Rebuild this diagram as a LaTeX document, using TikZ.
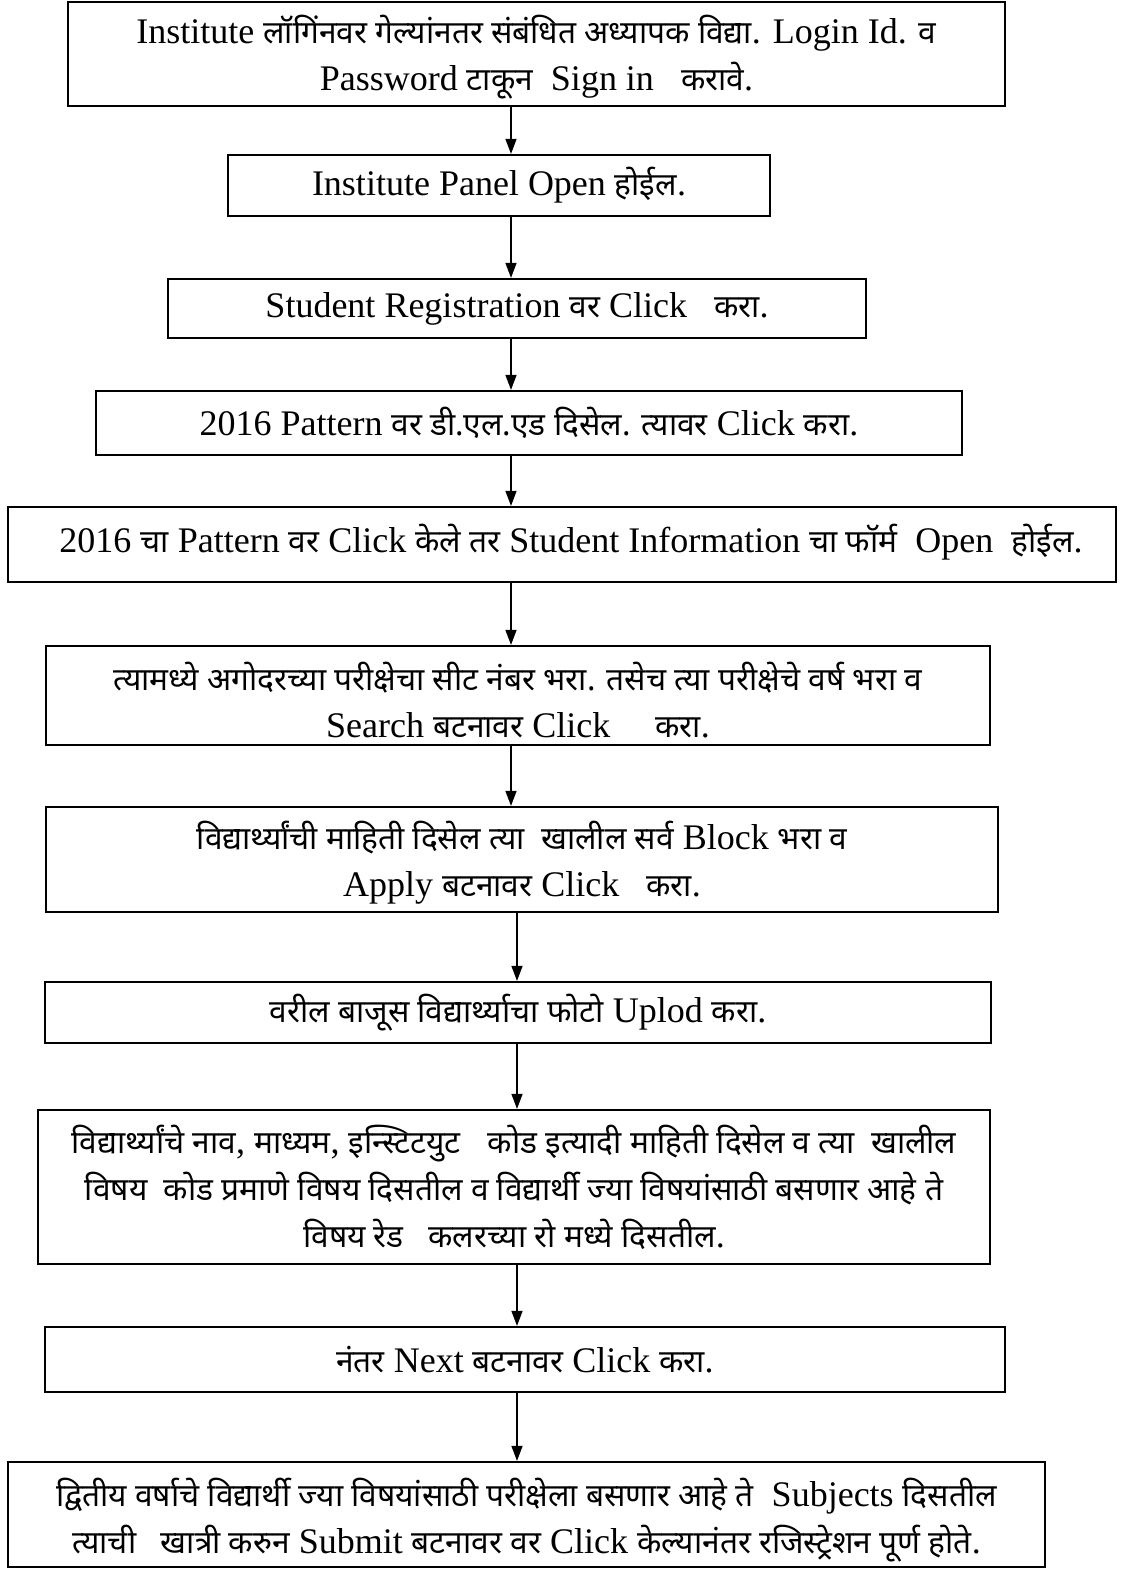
\documentclass[tikz,border=0pt]{standalone}
\usepackage{fontspec}
\usetikzlibrary{arrows.meta}
\setmainfont{Liberation Serif}
\newfontfamily\devfont[Script=Devanagari,Scale=0.88]{Noto Sans}
\newcommand{\dv}[1]{{\devfont #1}}
\tikzset{
  stepbox/.style={draw=black, line width=2.2pt, inner sep=0pt, align=center,
    font=\fontsize{36}{47}\selectfont},
  arr/.style={line width=1.4pt, -{Triangle[length=15pt,width=11pt]}}
}
\newcommand{\pbox}[6]{% name, left, top, right, bottom, text
  \node[stepbox, minimum width={#4-#2}, minimum height={#5-#3}] (#1) at ({(#2+#4)/2},{(#3+#5)/2}) {#6};}
\begin{document}
\begin{tikzpicture}[x=1pt,y=-1pt]
\useasboundingbox (0,0) rectangle (1121,1570);
\pbox{b1}{68}{2}{1005}{106}{\rule{0pt}{34pt}Institute \dv{लॉगिंनवर गेल्यांनतर संबंधित अध्यापक विद्या}. Login Id. \dv{व}\\Password \dv{टाकून}\ \ Sign in\ \ \ \dv{करावे}.}
\pbox{b2}{228}{155}{770}{216}{Institute Panel Open \dv{होईल}.}
\pbox{b3}{168}{279}{866}{338}{Student Registration \dv{वर} Click\ \ \ \dv{करा}.}
\pbox{b4}{96}{391}{962}{455}{2016 Pattern \dv{वर डी.एल.एड दिसेल. त्यावर} Click\ \dv{करा}.}
\pbox{b5}{8}{507}{1116}{582}{\raisebox{12pt}{\ \ 2016 \dv{चा} Pattern \dv{वर} Click \dv{केले तर} Student Information \dv{चा फॉर्म}\ \ Open\ \ \dv{होईल}.}}
\pbox{b6}{46}{646}{990}{745}{\rule{0pt}{38pt}\dv{त्यामध्ये अगोदरच्या परीक्षेचा सीट नंबर भरा. तसेच त्या परीक्षेचे वर्ष भरा व}\\Search \dv{बटनावर} Click\ \ \ \ \ \dv{करा}.}
\pbox{b7}{46}{807}{998}{912}{\rule{0pt}{34pt}\dv{विद्यार्थ्यांची माहिती दिसेल त्या\ \ खालील सर्व} Block \dv{भरा व}\\Apply \dv{बटनावर} Click\ \ \ \dv{करा}.}
\pbox{b8}{45}{982}{991}{1043}{\dv{वरील बाजूस विद्यार्थ्याचा फोटो} Uplod \dv{करा}.}
\pbox{b9}{38}{1110}{990}{1264}{\dv{विद्यार्थ्यांचे नाव}, \dv{माध्यम}, \dv{इन्स्टिटयुट}\ \ \ \dv{कोड इत्यादी माहिती दिसेल व त्या\ \ खालील}\\\dv{विषय\ \ कोड प्रमाणे विषय दिसतील व विद्यार्थी ज्या विषयांसाठी बसणार आहे ते}\\\dv{विषय रेड\ \ \ कलरच्या रो मध्ये दिसतील}.}
\pbox{b10}{45}{1327}{1005}{1392}{\dv{नंतर} Next \dv{बटनावर} Click \dv{करा}.}
\pbox{b11}{8}{1462}{1045}{1567}{\rule{0pt}{40pt}\dv{द्वितीय वर्षाचे विद्यार्थी ज्या विषयांसाठी परीक्षेला बसणार आहे ते}\ \ Subjects \dv{दिसतील}\\\dv{त्याची\ \ \ खात्री करुन} Submit \dv{बटनावर वर} Click \dv{केल्यानंतर रजिस्ट्रेशन पूर्ण होते}.}
\coordinate (xa) at (511,0);
\coordinate (xb) at (517,0);
\draw[arr] (b1.south -| xa) -- (b2.north -| xa);
\draw[arr] (b2.south -| xa) -- (b3.north -| xa);
\draw[arr] (b3.south -| xa) -- (b4.north -| xa);
\draw[arr] (b4.south -| xa) -- (b5.north -| xa);
\draw[arr] (b5.south -| xa) -- (b6.north -| xa);
\draw[arr] (b6.south -| xa) -- (b7.north -| xa);
\draw[arr] (b7.south -| xb) -- (b8.north -| xb);
\draw[arr] (b8.south -| xb) -- (b9.north -| xb);
\draw[arr] (b9.south -| xb) -- (b10.north -| xb);
\draw[arr] (b10.south -| xb) -- (b11.north -| xb);
\end{tikzpicture}
\end{document}
